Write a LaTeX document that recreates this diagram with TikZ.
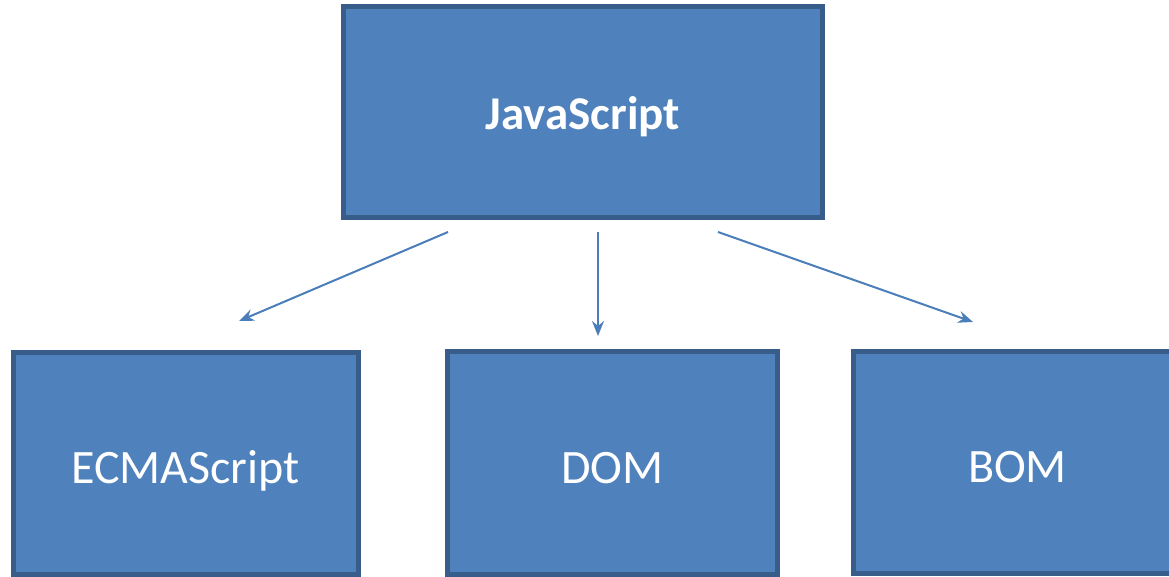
\documentclass[tikz,border=0pt]{standalone}
\usepackage{fontspec}
\setmainfont{Carlito}
\usetikzlibrary{arrows.meta}
\definecolor{boxfill}{HTML}{4F81BD}
\definecolor{boxedge}{HTML}{385D8A}
\definecolor{linkcol}{HTML}{4A7EBB}
\tikzset{
  block/.style={rectangle, draw=boxedge, fill=boxfill, line width=5pt,
    inner sep=0pt, text=white, text depth=0pt},
  title/.style={font=\fontsize{47}{56}\selectfont\bfseries, text height=36pt},
  part/.style={font=\fontsize{48}{58}\selectfont, text height=40pt},
  link/.style={draw=linkcol, line width=2pt,
    -{Stealth[length=15pt, width=12pt, inset=5pt]}},
}
\begin{document}
\begin{tikzpicture}[x=1pt, y=-1pt]
  \useasboundingbox (0,0) rectangle (1169,577);
  \clip (0,0) rectangle (1169,577);
  % top level
  \node[block, title, minimum width=479pt, minimum height=211pt] (js) at (583,112) {JavaScript};
  % the three parts
  \node[block, part, minimum width=345pt, minimum height=222.5pt] (ecma) at (185.5,463.25) {ECMAScript};
  \node[block, part, minimum width=330pt, minimum height=223pt] (dom) at (612.5,463) {DOM};
  \node[block, part, minimum width=328pt, minimum height=222pt] (bom) at (1017.5,462.5) {BOM};
  % arrow ends
  \coordinate (s1) at (448,232);
  \coordinate (e1) at (239,321);
  \coordinate (s2) at (598,232);
  \coordinate (e2) at (598,336);
  \coordinate (s3) at (718,232);
  \coordinate (e3) at (973,322);
  \draw[link] (s1) -- (e1);
  \draw[link] (s2) -- (e2);
  \draw[link] (s3) -- (e3);
\end{tikzpicture}
\end{document}
